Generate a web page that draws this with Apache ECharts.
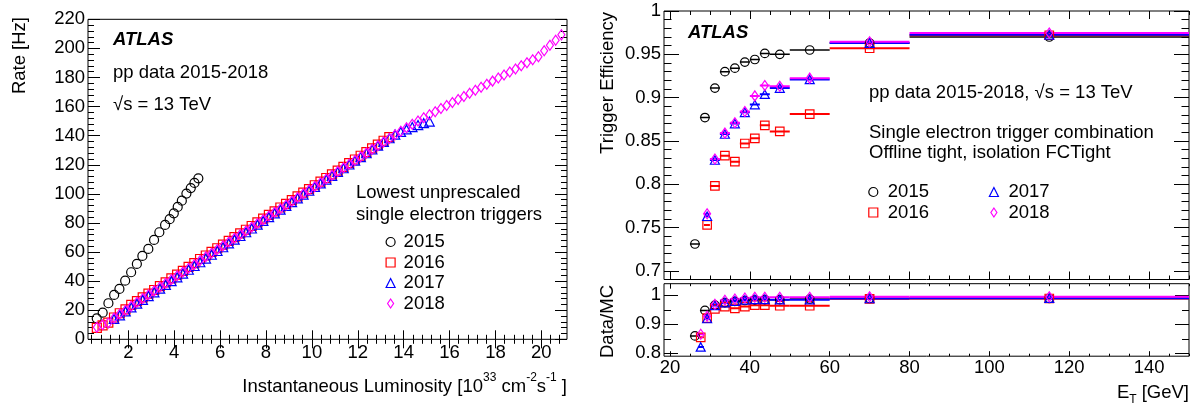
<!DOCTYPE html>
<html><head><meta charset="utf-8">
<script src="https://cdn.jsdelivr.net/npm/echarts@6/dist/echarts.min.js"></script>
<style>html,body{margin:0;padding:0;background:#fff}#c{width:1200px;height:406px}</style>
</head><body><div id="c"></div>
<script>
// ================= DATA =================
// Left panel: rate [Hz] vs instantaneous luminosity [1e33 cm^-2 s^-1]
const lumi2015 = [0.62,0.88,1.13,1.38,1.61,1.86,2.12,2.37,2.61,2.87,3.12,3.35,3.60,3.80,3.98,4.15,4.33,4.53,4.72,4.88,5.05];
const rate2015 = [14.4,18.3,24.8,30.5,34.6,40.3,46.1,51.8,57.3,62.1,68.3,73.6,78.6,82.6,86.6,91.0,95.3,100.2,104.0,107.5,110.7];
const lumi2016 = [0.625,0.875,1.125,1.375,1.625,1.875,2.125,2.375,2.625,2.875,3.125,3.375,3.625,3.875,4.125,4.375,4.625,4.875,5.125,5.375,5.625,5.875,6.125,6.375,6.625,6.875,7.125,7.375,7.625,7.875,8.125,8.375,8.625,8.875,9.125,9.375,9.625,9.875,10.125,10.375,10.625,10.875,11.125,11.375,11.625,11.875,12.125,12.375,12.625,12.875,13.125,13.375];
const rate2016 = [7.8,9.6,11.4,15.0,17.9,20.6,23.6,26.3,28.8,31.4,33.9,36.5,39.2,41.9,44.4,47.1,49.8,52.4,55.2,57.6,60.1,62.6,65.1,67.7,70.2,72.8,75.3,77.9,80.4,83.0,85.5,88.0,90.6,93.1,95.7,98.3,100.8,103.3,105.9,108.4,110.9,113.4,116.0,118.5,121.1,123.6,126.2,128.7,131.3,133.9,136.5,139.0];
const lumi2017 = [1.375,1.625,1.875,2.125,2.375,2.625,2.875,3.125,3.375,3.625,3.875,4.125,4.375,4.625,4.875,5.125,5.375,5.625,5.875,6.125,6.375,6.625,6.875,7.125,7.375,7.625,7.875,8.125,8.375,8.625,8.875,9.125,9.375,9.625,9.875,10.125,10.375,10.625,10.875,11.125,11.375,11.625,11.875,12.125,12.375,12.625,12.875,13.125,13.375,13.625,13.875,14.125,14.375,14.625,14.875,15.125];
const rate2017 = [14.0,16.5,19.2,21.9,24.5,27.1,29.7,32.3,34.8,37.4,40.0,42.6,45.2,47.8,50.4,53.0,55.5,58.1,60.7,63.3,65.9,68.5,71.0,73.6,76.2,78.8,81.4,84.0,86.6,89.1,91.7,94.3,96.9,99.5,102.1,104.7,107.2,109.8,112.4,115.0,117.6,120.2,122.8,125.3,127.9,130.5,133.1,135.7,138.2,140.7,142.6,144.3,145.9,147.3,148.6,149.7];
const lumi2018 = [0.625,0.875,1.125,1.375,1.625,1.875,2.125,2.375,2.625,2.875,3.125,3.375,3.625,3.875,4.125,4.375,4.625,4.875,5.125,5.375,5.625,5.875,6.125,6.375,6.625,6.875,7.125,7.375,7.625,7.875,8.125,8.375,8.625,8.875,9.125,9.375,9.625,9.875,10.125,10.375,10.625,10.875,11.125,11.375,11.625,11.875,12.125,12.375,12.625,12.875,13.125,13.375,13.625,13.875,14.125,14.375,14.625,14.875,15.125,15.375,15.625,15.875,16.125,16.375,16.625,16.875,17.125,17.375,17.625,17.875,18.125,18.375,18.625,18.875,19.125,19.375,19.625,19.875,20.125,20.375,20.625,20.875];
const rate2018 = [8.3,10.0,11.2,14.6,17.4,20.0,22.8,25.5,28.1,30.7,33.3,35.9,38.5,41.1,43.7,46.3,48.9,51.5,54.1,56.7,59.2,61.8,64.3,66.9,69.4,72.0,74.5,77.1,79.6,82.2,84.7,87.3,89.8,92.4,94.9,97.5,100.0,102.6,105.1,107.7,110.2,112.8,115.3,117.9,120.4,123.0,125.5,128.0,130.6,133.1,135.6,138.1,140.6,143.0,145.4,147.8,150.1,152.3,154.4,156.5,158.6,160.7,162.8,164.9,167.0,169.1,171.2,173.3,175.4,177.5,179.6,181.7,183.8,185.9,188.0,190.1,192.2,194.3,198.4,202.2,205.6,209.3];

// Right panel: E_T bins [GeV]
const etCenter2015 = [26.25,28.75,31.25,33.75,36.25,38.75,41.25,43.75,47.5,55,70,115];
const etLow2015    = [25,27.5,30,32.5,35,37.5,40,42.5,45,50,60,80];
const etHigh2015   = [27.5,30,32.5,35,37.5,40,42.5,45,50,60,80,150];
const etCenterLate = [27.7,29.3,31.25,33.75,36.25,38.75,41.25,43.75,47.5,55,70,115];
const etLowLate    = [27,28.5,30,32.5,35,37.5,40,42.5,45,50,60,80];
const etHighLate   = [28.5,30,32.5,35,37.5,40,42.5,45,50,60,80,150];
// Trigger efficiency (first late bin lies below the plotted range)
const eff2015 = [0.731,0.877,0.911,0.930,0.934,0.941,0.944,0.951,0.950,0.955,0.963,0.970];
const eff2016 = [null,0.753,0.798,0.833,0.826,0.847,0.853,0.868,0.861,0.881,0.957,0.972];
const eff2017 = [null,0.763,0.828,0.858,0.870,0.883,0.892,0.904,0.911,0.921,0.963,0.9725];
const eff2018 = [null,0.766,0.829,0.859,0.871,0.884,0.902,0.914,0.913,0.9225,0.9645,0.9745];
// Data/MC
const ratio2015 = [0.860,0.948,0.966,0.975,0.979,0.982,0.984,0.985,0.985,0.987,0.989,0.989];
const ratio2016 = [0.855,0.921,0.953,0.961,0.955,0.961,0.966,0.966,0.964,0.964,0.988,0.989];
const ratio2017 = [0.822,0.920,0.965,0.975,0.980,0.984,0.986,0.986,0.985,0.985,0.989,0.990];
const ratio2018 = [0.866,0.928,0.969,0.983,0.987,0.991,0.993,0.993,0.993,0.993,0.995,0.995];

// Tick labels
const lumiTicks  = [2,4,6,8,10,12,14,16,18,20];
const rateTicks  = [0,20,40,60,80,100,120,140,160,180,200,220];
const etTicks    = [20,40,60,80,100,120,140];
const effTicks   = [0.7,0.75,0.8,0.85,0.9,0.95,1];
const ratioTicks = [0.8,0.9,1];
const years = ['2015','2016','2017','2018'];

// ================= STYLE / BUILD =================
const F = '"Liberation Sans", Arial, Helvetica, sans-serif';
const FS = 18.5;
const colors  = {'2015':'#000000','2016':'#ff0000','2017':'#0000ff','2018':'#ff00ff'};
const symbols = {'2015':'circle','2016':'rect','2017':'triangle','2018':'diamond'};
const legendIcons = {'2015':'circle','2016':'rect','2017':'triangle','2018':'path://M3,0L6,4.5L3,9L0,4.5Z'};
const sizeL   = {'2015':9,'2016':9,'2017':[9.5,9],'2018':[7,10]};
const sizeR   = {'2015':8.5,'2016':8.5,'2017':[9,8.5],'2018':[7,10]};

function minorTicks(min, max, step, majors) {
  const out = [];
  const n0 = Math.ceil(min / step - 1e-9), n1 = Math.floor(max / step + 1e-9);
  for (let n = n0; n <= n1; n++) {
    const v = +(n * step).toFixed(6);
    if (!majors.some(m => Math.abs(m - v) < 1e-6)) out.push(v);
  }
  return out;
}
const fmt = v => String(Math.round(v * 1000) / 1000);
const xAxes = [], yAxes = [];
function addAxes(list, grid, dim, min, max, majors, minors, majLen, minLen, showLabels, margin) {
  const pos = dim === 'x' ? ['bottom', 'top'] : ['left', 'right'];
  const start = list.length;
  pos.forEach((p, pi) => {
    [[majors, majLen], [minors, minLen]].forEach(([vals, len], ti) => {
      list.push({
        type: 'value', gridIndex: grid, min, max, position: p,
        splitLine: {show: false}, axisLine: {show: false},
        axisTick: {show: true, inside: true, length: len, customValues: vals,
                   lineStyle: {color: '#000', width: 1}},
        axisLabel: (showLabels && pi === 0 && ti === 0) ? {
          show: true, customValues: majors, formatter: fmt, margin,
          fontSize: FS, fontFamily: F, color: '#000'
        } : {show: false}
      });
    });
  });
  return start;
}
// grid 0: left panel
const gx0 = addAxes(xAxes, 0, 'x', 0.24, 21.12, lumiTicks, minorTicks(0.24, 21.12, 0.4, lumiTicks), 9, 4.5, true, 4);
const gy0 = addAxes(yAxes, 0, 'y', 0, 220, rateTicks, minorTicks(0, 220, 4, rateTicks), 12, 6, true, 3);
// grid 1: efficiency
const gx1 = addAxes(xAxes, 1, 'x', 18.5, 150, etTicks, minorTicks(18.5, 150, 5, etTicks), 8, 4, false, 0);
const gy1 = addAxes(yAxes, 1, 'y', 0.69, 1.0, effTicks, minorTicks(0.69, 1.0, 0.01, effTicks), 15, 7.5, true, 3);
// grid 2: ratio
const gx2 = addAxes(xAxes, 2, 'x', 18.5, 150, etTicks, minorTicks(18.5, 150, 5, etTicks), 5, 2.5, true, 2);
const gy2 = addAxes(yAxes, 2, 'y', 0.79, 1.04, ratioTicks, minorTicks(0.79, 1.04, 0.05, ratioTicks), 14, 7, true, 3);

function zip(xs, ys) {
  const o = [];
  for (let i = 0; i < Math.min(xs.length, ys.length); i++) if (ys[i] != null) o.push([xs[i], ys[i]]);
  return o;
}
function scatter(year, data, xi, yi, size) {
  return {
    type: 'scatter', name: year, xAxisIndex: xi, yAxisIndex: yi, data,
    symbol: symbols[year], symbolSize: size, clip: true, silent: true,
    itemStyle: {color: 'rgba(0,0,0,0)', borderColor: colors[year], borderWidth: 1.2, opacity: 1},
    emphasis: {disabled: true}, animation: false
  };
}
function bars(year, lo, hi, ys, xi, yi, width) {
  const data = [];
  for (let i = 0; i < ys.length; i++) if (ys[i] != null) data.push([lo[i], hi[i], ys[i]]);
  return {
    type: 'custom', name: year + ' bins', xAxisIndex: xi, yAxisIndex: yi, silent: true, clip: true,
    encode: {x: [0, 1], y: 2}, data,
    renderItem: (params, api) => {
      const a = api.coord([api.value(0), api.value(2)]);
      const b = api.coord([api.value(1), api.value(2)]);
      return {type: 'line', shape: {x1: a[0], y1: a[1], x2: b[0], y2: b[1]},
              style: {stroke: colors[year], lineWidth: width}};
    }
  };
}

const lumiData = {'2015':[lumi2015,rate2015],'2016':[lumi2016,rate2016],'2017':[lumi2017,rate2017],'2018':[lumi2018,rate2018]};
const effData = {'2015':eff2015,'2016':eff2016,'2017':eff2017,'2018':eff2018};
const ratioData = {'2015':ratio2015,'2016':ratio2016,'2017':ratio2017,'2018':ratio2018};

const series = [];
years.forEach(y => series.push(scatter(y, zip(lumiData[y][0], lumiData[y][1]), gx0, gy0, sizeL[y])));
years.forEach(y => {
  const c = y === '2015' ? etCenter2015 : etCenterLate;
  const lo = y === '2015' ? etLow2015 : etLowLate;
  const hi = y === '2015' ? etHigh2015 : etHighLate;
  const w = y === '2015' ? 1.5 : 2;
  series.push(bars(y, lo, hi, effData[y], gx1, gy1, w));
  series.push(scatter(y, zip(c, effData[y]), gx1, gy1, sizeR[y]));
  series.push(bars(y, lo, hi, ratioData[y], gx2, gy2, w));
  series.push(scatter(y, zip(c, ratioData[y]), gx2, gy2, sizeR[y]));
});

function legend(names, left, top, textPad) {
  return {
    orient: 'vertical', left, top, padding: 0, itemGap: 0.5, itemWidth: 9, itemHeight: 9,
    selectedMode: false, symbolKeepAspect: true,
    data: names.map(n => ({name: n, icon: legendIcons[n]})),
    itemStyle: {borderWidth: 1.2},
    textStyle: {fontSize: FS, fontFamily: F, color: '#000', lineHeight: 20, padding: [0, 0, 0, textPad]}
  };
}
function txt(text, x, y, extra) {
  return {type: 'text', x, y, silent: true, rotation: (extra && extra.rotation) || 0,
    style: Object.assign({text, fontSize: FS, fontFamily: F, fill: '#000',
      align: 'left', verticalAlign: 'middle', textAlign: 'left', textVerticalAlign: 'middle'},
      (extra && extra.style) || {})};
}
const bi = {style: {fontWeight: 'bold', fontStyle: 'italic'}};
const graphic = [
  txt('ATLAS', 113, 40, bi),
  txt('pp data 2015-2018', 113, 73),
  txt('√s = 13 TeV', 113, 105),
  txt('Lowest unprescaled', 356, 193),
  txt('single electron triggers', 356, 215),
  txt('Rate [Hz]', 20, 17, {rotation: Math.PI / 2, style: {align: 'right', textAlign: 'right'}}),
  txt('Instantaneous Luminosity [10{sup|33} cm{sup|-2}s{sup|-1} ]', 567, 386.7, {style: {
    align: 'right', textAlign: 'right', lineHeight: 30,
    rich: {sup: {fontSize: 12, lineHeight: 13, verticalAlign: 'top', fontFamily: F, fill: '#000'}}}}),
  txt('ATLAS', 688, 33, bi),
  txt('pp data 2015-2018, √s = 13 TeV', 869, 93.3),
  txt('Single electron trigger combination', 869, 133.3),
  txt('Offline tight, isolation FCTight', 869, 153.3),
  txt('Trigger Efficiency', 608, 12, {rotation: Math.PI / 2, style: {align: 'right', textAlign: 'right'}}),
  txt('Data/MC', 608, 285, {rotation: Math.PI / 2, style: {align: 'right', textAlign: 'right'}}),
  txt('E{sub|T} [GeV]', 1189, 393, {style: {
    align: 'right', textAlign: 'right', lineHeight: 26,
    rich: {sub: {fontSize: 12, lineHeight: 13, verticalAlign: 'bottom', fontFamily: F, fill: '#000'}}}})
];

const gridBase = {show: true, borderColor: '#000', borderWidth: 1, backgroundColor: 'rgba(0,0,0,0)', containLabel: false, outerBoundsMode: 'none'};
const option = {
  animation: false,
  backgroundColor: '#fff',
  textStyle: {fontFamily: F},
  grid: [
    Object.assign({left: 88, top: 19.3, width: 479, height: 320}, gridBase),
    Object.assign({left: 664, top: 11, width: 525, height: 268.5}, gridBase),
    Object.assign({left: 664, top: 283.7, width: 525, height: 72.5}, gridBase)
  ],
  xAxis: xAxes,
  yAxis: yAxes,
  legend: [
    legend(years, 385.5, 232, 3.5),
    legend(['2015', '2016'], 868.2, 182, 5),
    legend(['2017', '2018'], 988.8, 182, 5)
  ],
  graphic,
  series
};
const chart = echarts.init(document.getElementById('c'), null, {renderer: 'canvas'});
chart.setOption(option);
</script></body></html>
